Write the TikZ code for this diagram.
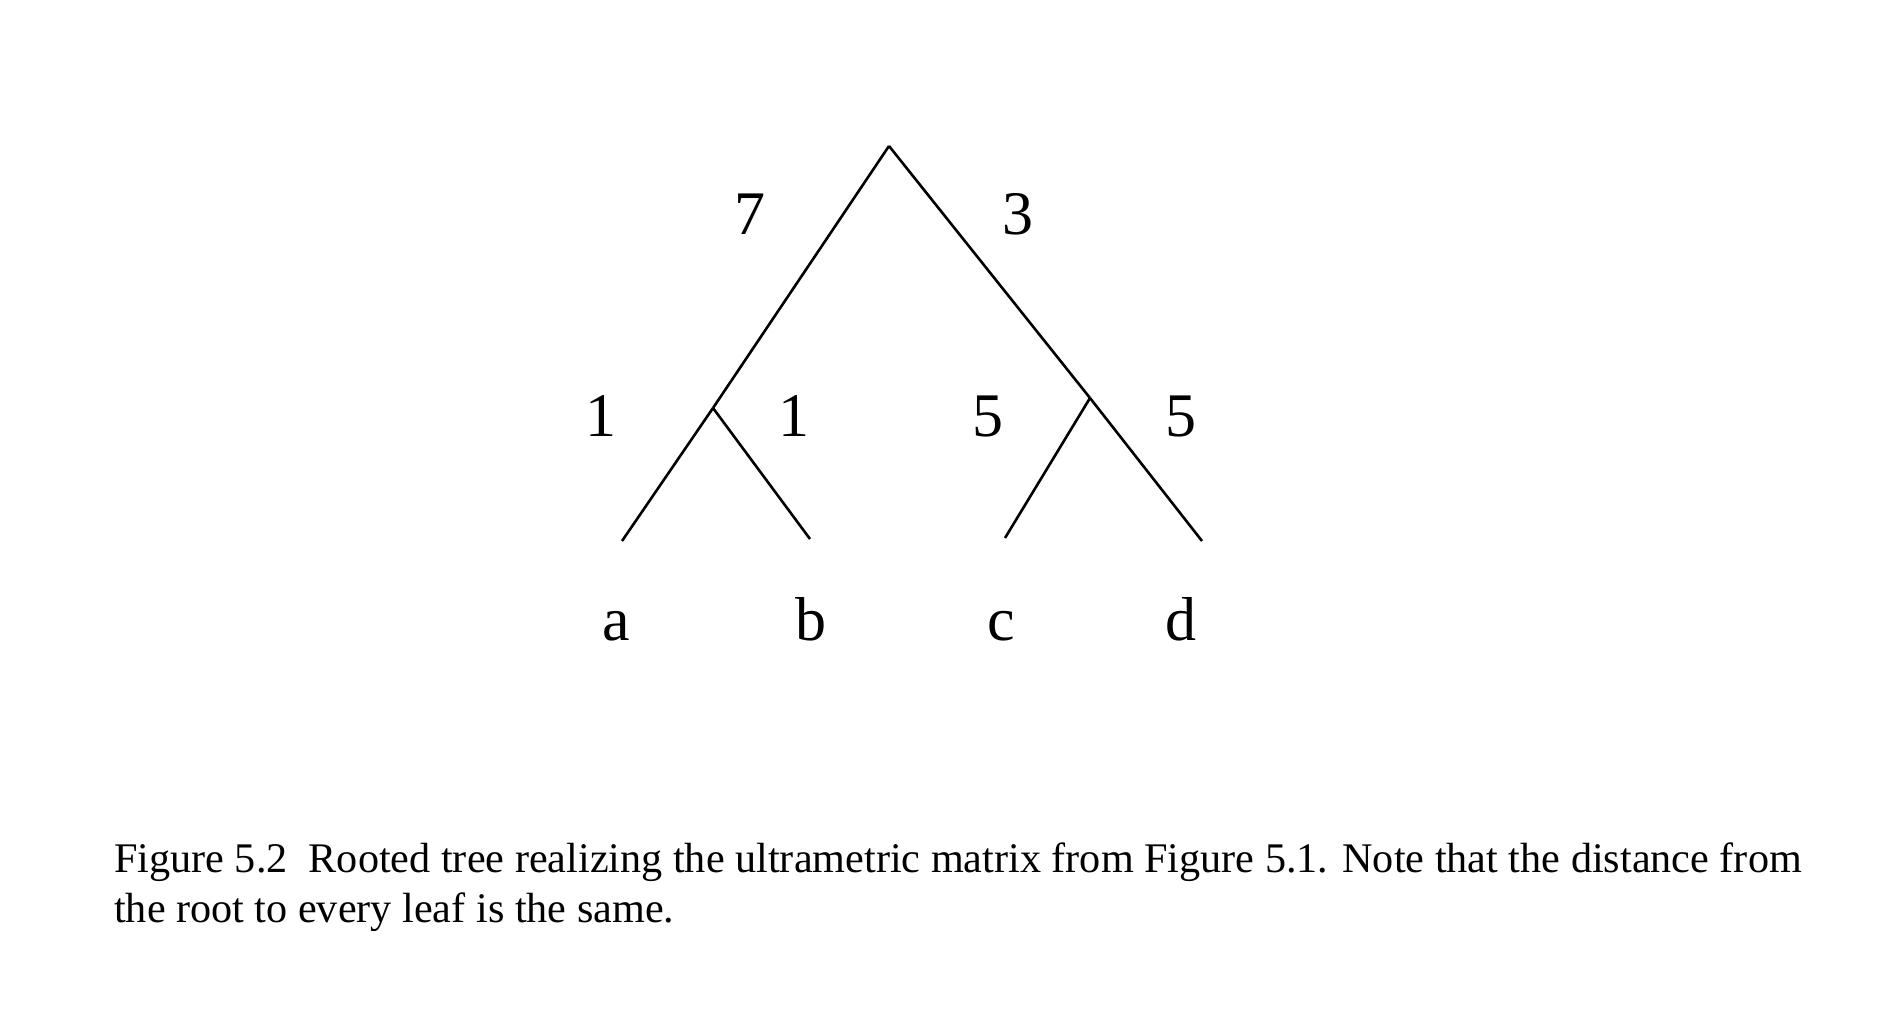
\documentclass[tikz,border=0pt]{standalone}
\usepackage{fontspec}
\setmainfont{Liberation Serif}
\begin{document}
\begin{tikzpicture}[x=1pt,y=-1pt,
  edge/.style={line width=2.6pt,line cap=butt},
  lbl/.style={font=\fontsize{62}{62}\selectfont,anchor=base,inner sep=0pt},
  captext/.style={font=\fontsize{42.2}{48}\selectfont,anchor=base west,inner sep=0pt}]
\useasboundingbox (0,0) rectangle (1882,1014);
\fill[white] (0,0) rectangle (1882,1014);
\coordinate (r) at (889,146);
\coordinate (u) at (713,408);
\coordinate (v) at (1090,398);
\coordinate (la) at (622,541);
\coordinate (lb) at (810,539);
\coordinate (lc) at (1005,538);
\coordinate (ld) at (1202,541);
\draw[edge] (r) -- (u);
\draw[edge] (r) -- (v);
\draw[edge] (v) -- (ld);
\draw[edge] (u) -- (la);
\draw[edge] (u) -- (lb);
\draw[edge] (v) -- (lc);
\node[lbl] (w7) at (750,234) {7};
\node[lbl] (w3) at (1018,234) {3};
\node[lbl] (w1a) at (601,436) {1};
\node[lbl] (w1b) at (794,436) {1};
\node[lbl] (w5c) at (988,436) {5};
\node[lbl] (w5d) at (1181,436) {5};
\node[lbl] (na) at (616,640) {a};
\node[lbl] (nb) at (811,640) {b};
\node[lbl] (nc) at (1001,640) {c};
\node[lbl] (nd) at (1181,640) {d};
\node[captext] (c1) at (114,872) {Figure 5.2\ \ Rooted tree realizing the ultrametric matrix from Figure 5.1. Note that the distance from};
\node[captext] (c2) at (114,922) {the root to every leaf is the same.};
\end{tikzpicture}
\end{document}
